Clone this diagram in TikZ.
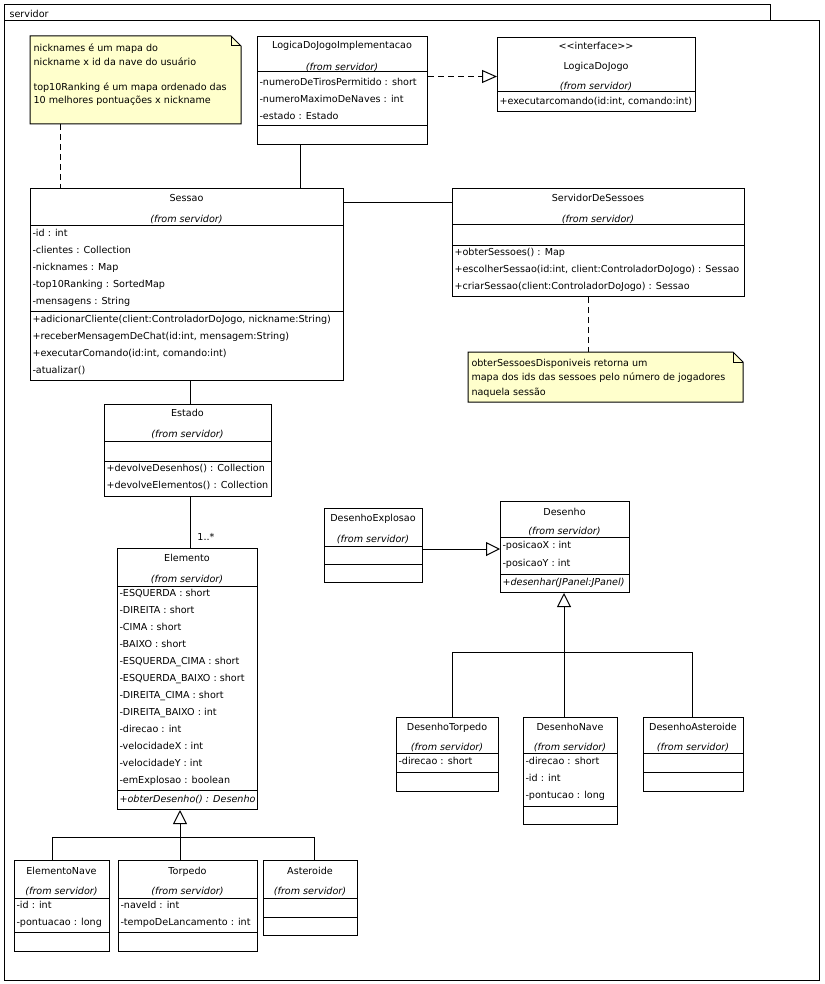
\documentclass[tikz,border=0pt]{standalone}
\usepackage{fontspec}
\setmainfont{DejaVu Sans}
\usetikzlibrary{arrows.meta}
\definecolor{notebg}{RGB}{255,255,204}
\newcommand{\umlfont}{\fontsize{9.6}{11}\selectfont}
\newcommand{\usep}[2]{\draw (#1.west |- 0,#2) -- (#1.east |- 0,#2);}
\newcommand{\utl}[4]{\node[txt] (#1) at (#2,{#3+3.5}) {#4};}
\newcommand{\uti}[4]{\node[txt, font=\umlfont\itshape] (#1) at (#2,{#3+3.5}) {#4};}
\newcommand{\utc}[4]{\node[ctr] (#1) at (#2,{#3+3.5}) {#4};}
\newcommand{\utf}[3]{\node[frm] (#1) at (#2,{#3+3.5}) {(from servidor)};}
\begin{document}
\begin{tikzpicture}[x=1pt,y=-1pt, line width=1pt,
  cls/.style={draw, fill=white, inner sep=0pt, anchor=north west},
  notebox/.style={inner sep=0pt, anchor=north west},
  txt/.style={inner sep=0pt, anchor=base west, font=\umlfont},
  ctr/.style={inner sep=0pt, anchor=base, font=\umlfont},
  frm/.style={inner sep=0pt, anchor=base, font=\umlfont\itshape},
  dsh/.style={dash pattern=on 6pt off 4pt},
  genz/.style={-{Triangle[open, length=14pt, width=14pt]}},
  real/.style={dsh, -{Triangle[open, length=15pt, width=13pt]}},
  notefill/.style={draw, fill=notebg}
]
\useasboundingbox (0,0) rectangle (824,984);
% package frame
\node[cls, minimum width=766pt, minimum height=16pt] (tab) at (4,4) {};
\node[cls, minimum width=815pt, minimum height=960pt] (pkg) at (4,20) {};
\utl{pkglabel}{9}{14}{servidor}

% note 1
\node[notebox, minimum width=210pt, minimum height=87pt] (note1) at (30,36) {};
\draw[notefill] (note1.north west) -- ([xshift=-10pt]note1.north east) -- ([yshift=-10pt]note1.north east) -- (note1.south east) -- (note1.south west) -- cycle;
\draw ([xshift=-10pt]note1.north east) -- ([xshift=-10pt,yshift=-10pt]note1.north east) -- ([yshift=-10pt]note1.north east);
\utl{n1a}{33}{48}{nicknames é um mapa do}
\utl{n1b}{33}{62}{nickname x id da nave do usuário}
\utl{n1c}{33}{87}{top10Ranking é um mapa ordenado das}
\utl{n1d}{33}{100}{10 melhores pontuações x nickname}

% note 2
\node[notebox, minimum width=274pt, minimum height=49pt] (note2) at (468,352) {};
\draw[notefill] (note2.north west) -- ([xshift=-10pt]note2.north east) -- ([yshift=-10pt]note2.north east) -- (note2.south east) -- (note2.south west) -- cycle;
\draw ([xshift=-10pt]note2.north east) -- ([xshift=-10pt,yshift=-10pt]note2.north east) -- ([yshift=-10pt]note2.north east);
\utl{n2a}{471}{363}{obterSessoesDisponiveis retorna um}
\utl{n2b}{471}{377}{mapa dos ids das sessoes pelo número de jogadores}
\utl{n2c}{471}{392}{naquela sessão}

% LogicaDoJogoImplementacao
\node[cls, minimum width=170pt, minimum height=108pt] (logimpl) at (257,36) {};
\utc{liN}{342}{45}{LogicaDoJogoImplementacao}
\utf{liF}{342}{67}
\usep{logimpl}{72}
\utl{liA1}{259}{82}{-numeroDeTirosPermitido : short}
\utl{liA2}{259}{99}{-numeroMaximoDeNaves : int}
\utl{liA3}{259}{116}{-estado : Estado}
\usep{logimpl}{126}

% LogicaDoJogo
\node[cls, minimum width=198pt, minimum height=74pt] (logica) at (497,37) {};
\utc{lgS}{596}{46}{<\kern0pt<interface>\kern0pt>}
\utc{lgN}{596}{66}{LogicaDoJogo}
\utf{lgF}{596}{86}
\usep{logica}{92}
\utl{lgM1}{499}{101}{+executarcomando(id:int, comando:int)}

% Sessao
\node[cls, minimum width=313pt, minimum height=192pt] (sessao) at (30,188) {};
\utc{seN}{186.5}{198}{Sessao}
\utf{seF}{186.5}{219}
\usep{sessao}{226}
\utl{seA1}{32}{233}{-id : int}
\utl{seA2}{32}{250}{-clientes : Collection}
\utl{seA3}{32}{267}{-nicknames : Map}
\utl{seA4}{32}{284}{-top10Ranking : SortedMap}
\utl{seA5}{32}{301}{-mensagens : String}
\usep{sessao}{311}
\utl{seM1}{32}{319}{+adicionarCliente(client:ControladorDoJogo, nickname:String)}
\utl{seM2}{32}{336}{+receberMensagemDeChat(id:int, mensagem:String)}
\utl{seM3}{32}{353}{+executarComando(id:int, comando:int)}
\utl{seM4}{32}{370}{-atualizar()}

% ServidorDeSessoes
\node[cls, minimum width=292pt, minimum height=108pt] (servidor) at (452,188) {};
\utc{svN}{598}{198}{ServidorDeSessoes}
\utf{svF}{598}{219}
\usep{servidor}{225}
\usep{servidor}{245}
\utl{svM1}{454}{252}{+obterSessoes() : Map}
\utl{svM2}{454}{269}{+escolherSessao(id:int, client:ControladorDoJogo) : Sessao}
\utl{svM3}{454}{286}{+criarSessao(client:ControladorDoJogo) : Sessao}

% Estado
\node[cls, minimum width=167pt, minimum height=92pt] (estado) at (104,404) {};
\utc{esN}{187.5}{413}{Estado}
\utf{esF}{187.5}{434}
\usep{estado}{441}
\usep{estado}{461}
\utl{esM1}{106}{468}{+devolveDesenhos() : Collection}
\utl{esM2}{106}{485}{+devolveElementos() : Collection}

% Elemento
\node[cls, minimum width=140pt, minimum height=261pt] (elemento) at (117,548) {};
\utc{elN}{187}{558}{Elemento}
\utf{elF}{187}{579}
\usep{elemento}{586}
\utl{elA1}{119}{593}{-ESQUERDA : short}
\utl{elA2}{119}{610}{-DIREITA : short}
\utl{elA3}{119}{627}{-CIMA : short}
\utl{elA4}{119}{644}{-BAIXO : short}
\utl{elA5}{119}{661}{-ESQUERDA\_CIMA : short}
\utl{elA6}{119}{678}{-ESQUERDA\_BAIXO : short}
\utl{elA7}{119}{695}{-DIREITA\_CIMA : short}
\utl{elA8}{119}{712}{-DIREITA\_BAIXO : int}
\utl{elA9}{119}{729}{-direcao : int}
\utl{elA10}{119}{746}{-velocidadeX : int}
\utl{elA11}{119}{763}{-velocidadeY : int}
\utl{elA12}{119}{780}{-emExplosao : boolean}
\usep{elemento}{790}
\uti{elM1}{119}{799}{+obterDesenho() : Desenho}

% ElementoNave
\node[cls, minimum width=95pt, minimum height=91pt] (elnave) at (14,860) {};
\utc{enN}{61.5}{871}{ElementoNave}
\utf{enF}{61.5}{891}
\usep{elnave}{898}
\utl{enA1}{16}{905}{-id : int}
\utl{enA2}{16}{922}{-pontuacao : long}
\usep{elnave}{932}

% Torpedo
\node[cls, minimum width=139pt, minimum height=91pt] (torpedo) at (118,860) {};
\utc{toN}{187.5}{871}{Torpedo}
\utf{toF}{187.5}{891}
\usep{torpedo}{898}
\utl{toA1}{120}{905}{-naveId : int}
\utl{toA2}{120}{922}{-tempoDeLancamento : int}
\usep{torpedo}{932}

% Asteroide
\node[cls, minimum width=94pt, minimum height=75pt] (asteroide) at (263,860) {};
\utc{asN}{310}{871}{Asteroide}
\utf{asF}{310}{891}
\usep{asteroide}{898}
\usep{asteroide}{917}

% DesenhoExplosao
\node[cls, minimum width=98pt, minimum height=74pt] (dexpl) at (324,508) {};
\utc{dxN}{373}{518}{DesenhoExplosao}
\utf{dxF}{373}{539}
\usep{dexpl}{546}
\usep{dexpl}{564}

% Desenho
\node[cls, minimum width=129pt, minimum height=91pt] (desenho) at (500,501) {};
\utc{deN}{564.5}{512}{Desenho}
\utf{deF}{564.5}{531}
\usep{desenho}{537}
\utl{deA1}{502}{545}{-posicaoX : int}
\utl{deA2}{502}{563}{-posicaoY : int}
\usep{desenho}{574}
\uti{deM1}{502}{582}{+desenhar(JPanel:JPanel)}

% DesenhoTorpedo
\node[cls, minimum width=102pt, minimum height=74pt] (dtorpedo) at (396,717) {};
\utc{dtN}{447}{727}{DesenhoTorpedo}
\utf{dtF}{447}{747}
\usep{dtorpedo}{753}
\utl{dtA1}{398}{761}{-direcao : short}
\usep{dtorpedo}{772}

% DesenhoNave
\node[cls, minimum width=94pt, minimum height=107pt] (dnave) at (523,717) {};
\utc{dnN}{570}{727}{DesenhoNave}
\utf{dnF}{570}{747}
\usep{dnave}{753}
\utl{dnA1}{525}{761}{-direcao : short}
\utl{dnA2}{525}{778}{-id : int}
\utl{dnA3}{525}{795}{-pontucao : long}
\usep{dnave}{806}

% DesenhoAsteroide
\node[cls, minimum width=100pt, minimum height=74pt] (dasteroide) at (643,717) {};
\utc{daN}{693}{727}{DesenhoAsteroide}
\utf{daF}{693}{747}
\usep{dasteroide}{753}
\usep{dasteroide}{772}

% connectors
\draw[real] ([yshift=-40.5pt]logimpl.north east) -- ([yshift=-39.5pt]logica.north west);
\draw ([xshift=43pt]logimpl.south west) -- ([xshift=270pt]sessao.north west);
\draw ([yshift=-15pt]sessao.north east) -- ([yshift=-15pt]servidor.north west);
\draw[dsh] ([xshift=30pt]note1.south west) -- ([xshift=30pt]sessao.north west);
\draw[dsh] ([xshift=136pt]servidor.south west) -- ([xshift=120pt]note2.north west);
\draw ([xshift=160pt]sessao.south west) -- ([xshift=86pt]estado.north west);
\draw ([xshift=86pt]estado.south west) -- ([xshift=73pt]elemento.north west);
\utc{mult}{206}{537}{1..*}
\draw[genz] ([yshift=-41pt]dexpl.north east) -- ([yshift=-48pt]desenho.north west);
\coordinate (jE) at (180,837);
\draw[genz] (jE) -- ([xshift=63pt]elemento.south west);
\draw ([xshift=38pt]elnave.north west) |- (jE);
\draw ([xshift=62pt]torpedo.north west) -- (jE);
\draw ([xshift=51pt]asteroide.north west) |- (jE);
\coordinate (jD) at (564,652);
\draw[genz] (jD) -- ([xshift=64pt]desenho.south west);
\draw ([xshift=56pt]dtorpedo.north west) |- (jD);
\draw ([xshift=41pt]dnave.north west) -- (jD);
\draw ([xshift=49pt]dasteroide.north west) |- (jD);
\end{tikzpicture}
\end{document}
